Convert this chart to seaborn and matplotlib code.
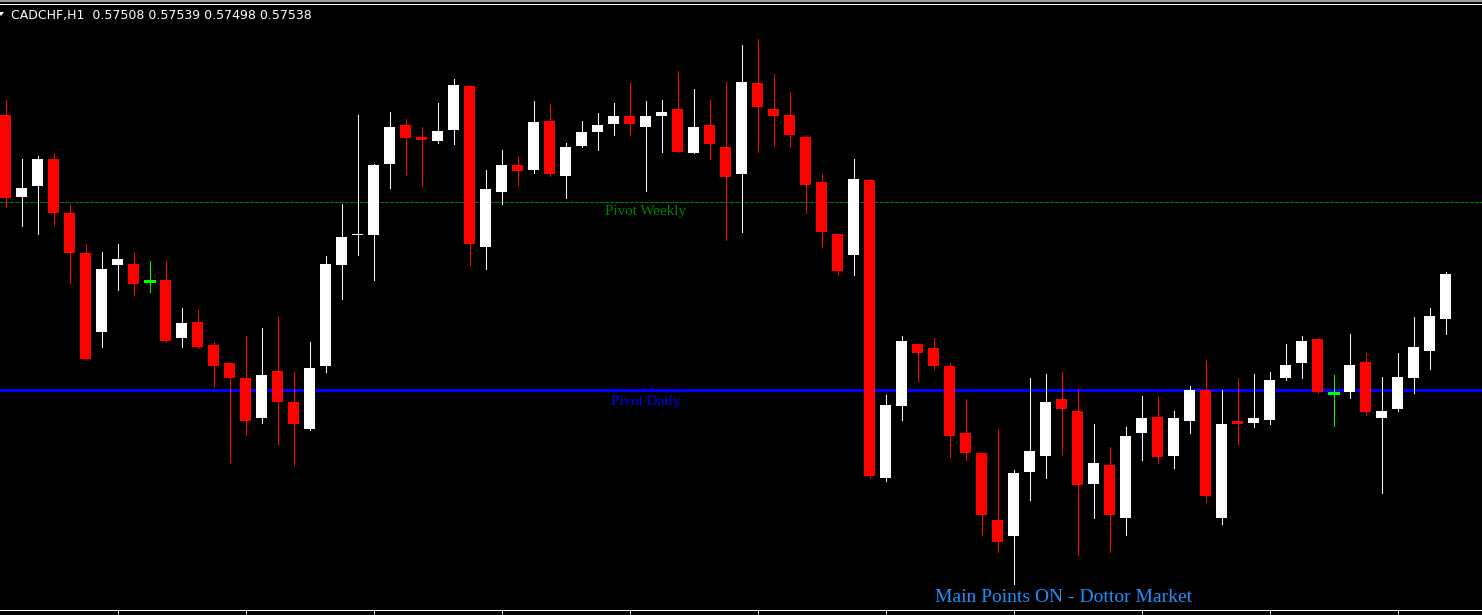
import numpy as np
import pandas as pd
import seaborn as sns
import matplotlib
matplotlib.use("Agg")
import matplotlib.pyplot as plt
from matplotlib.lines import Line2D
from matplotlib.patches import Polygon

# ---- CADCHF H1 candles (oldest -> newest) ----
symbol = "CADCHF,H1"

open_ = [0.57645, 0.57590, 0.57597, 0.57615, 0.57579, 0.57552, 0.57499, 0.57544, 0.57545, 0.57533,
         0.57534, 0.57495, 0.57506, 0.57490, 0.57478, 0.57468, 0.57441, 0.57473, 0.57452, 0.57434,
         0.57476, 0.57544, 0.57564, 0.57564, 0.57612, 0.57638, 0.57630, 0.57627, 0.57635, 0.57664,
         0.57556, 0.57593, 0.57611, 0.57608, 0.57641, 0.57604, 0.57624, 0.57633, 0.57639, 0.57644,
         0.57637, 0.57644, 0.57649, 0.57619, 0.57638, 0.57623, 0.57605, 0.57666, 0.57649, 0.57645,
         0.57630, 0.57600, 0.57565, 0.57551, 0.57601, 0.57401, 0.57449, 0.57491, 0.57488, 0.57476,
         0.57431, 0.57418, 0.57373, 0.57362, 0.57405, 0.57416, 0.57454, 0.57446, 0.57397, 0.57410,
         0.57374, 0.57431, 0.57442, 0.57416, 0.57439, 0.57460, 0.57374, 0.57439, 0.57438, 0.57440,
         0.57468, 0.57478, 0.57494, 0.57458, 0.57459, 0.57479, 0.57441, 0.57447, 0.57468, 0.57486,
         0.57508]
high = [0.57655, 0.57615, 0.57617, 0.57619, 0.57585, 0.57558, 0.57553, 0.57558, 0.57553, 0.57547,
        0.57547, 0.57515, 0.57514, 0.57492, 0.57478, 0.57496, 0.57502, 0.57510, 0.57472, 0.57492,
        0.57550, 0.57585, 0.57645, 0.57612, 0.57647, 0.57642, 0.57637, 0.57653, 0.57669, 0.57665,
        0.57608, 0.57621, 0.57617, 0.57654, 0.57652, 0.57626, 0.57641, 0.57646, 0.57653, 0.57666,
        0.57654, 0.57655, 0.57674, 0.57662, 0.57655, 0.57667, 0.57692, 0.57696, 0.57672, 0.57660,
        0.57631, 0.57605, 0.57565, 0.57615, 0.57602, 0.57457, 0.57496, 0.57491, 0.57495, 0.57478,
        0.57454, 0.57418, 0.57434, 0.57406, 0.57468, 0.57471, 0.57472, 0.57461, 0.57437, 0.57422,
        0.57435, 0.57456, 0.57456, 0.57446, 0.57463, 0.57480, 0.57460, 0.57468, 0.57471, 0.57472,
        0.57491, 0.57496, 0.57495, 0.57470, 0.57498, 0.57485, 0.57469, 0.57485, 0.57509, 0.57515,
        0.57539]
low = [0.57583, 0.57570, 0.57565, 0.57571, 0.57532, 0.57480, 0.57489, 0.57527, 0.57524, 0.57526,
       0.57492, 0.57489, 0.57488, 0.57462, 0.57412, 0.57430, 0.57438, 0.57424, 0.57410, 0.57433,
       0.57472, 0.57521, 0.57551, 0.57534, 0.57596, 0.57605, 0.57597, 0.57626, 0.57625, 0.57544,
       0.57541, 0.57585, 0.57598, 0.57606, 0.57604, 0.57589, 0.57623, 0.57621, 0.57631, 0.57631,
       0.57594, 0.57620, 0.57620, 0.57619, 0.57615, 0.57561, 0.57566, 0.57620, 0.57624, 0.57623,
       0.57579, 0.57556, 0.57537, 0.57537, 0.57401, 0.57399, 0.57440, 0.57466, 0.57474, 0.57415,
       0.57413, 0.57363, 0.57351, 0.57330, 0.57386, 0.57401, 0.57417, 0.57349, 0.57374, 0.57351,
       0.57363, 0.57413, 0.57411, 0.57408, 0.57431, 0.57385, 0.57370, 0.57424, 0.57435, 0.57437,
       0.57467, 0.57468, 0.57458, 0.57436, 0.57455, 0.57443, 0.57391, 0.57446, 0.57458, 0.57474,
       0.57498]
close = [0.57589, 0.57596, 0.57615, 0.57579, 0.57552, 0.57481, 0.57541, 0.57548, 0.57531, 0.57533,
         0.57493, 0.57505, 0.57489, 0.57476, 0.57468, 0.57439, 0.57470, 0.57452, 0.57437, 0.57475,
         0.57545, 0.57563, 0.57565, 0.57611, 0.57637, 0.57629, 0.57628, 0.57634, 0.57665, 0.57558,
         0.57595, 0.57611, 0.57607, 0.57640, 0.57605, 0.57623, 0.57633, 0.57638, 0.57644, 0.57639,
         0.57644, 0.57647, 0.57620, 0.57637, 0.57625, 0.57603, 0.57667, 0.57650, 0.57644, 0.57631,
         0.57598, 0.57566, 0.57540, 0.57602, 0.57402, 0.57450, 0.57493, 0.57485, 0.57476, 0.57429,
         0.57418, 0.57376, 0.57358, 0.57404, 0.57419, 0.57452, 0.57447, 0.57396, 0.57411, 0.57376,
         0.57429, 0.57441, 0.57415, 0.57441, 0.57460, 0.57389, 0.57437, 0.57437, 0.57441, 0.57467,
         0.57477, 0.57493, 0.57459, 0.57458, 0.57477, 0.57445, 0.57446, 0.57469, 0.57489, 0.57510,
         0.57538]

pivot_weekly = 0.57586
pivot_daily = 0.57460
pivot_label_bar = 40
price_range = (0.573123, 0.577193)
footer = "Main Points ON - Dottor Market"

# ---- frame / pixel geometry ----
W, H = 1482, 615
BAR_STEP = 16.0          # px between bars
BAR_X0 = 5.5             # px centre of first bar
BODY_W = 11.0 / BAR_STEP
PX = 0.72                # one pixel in points at 100 dpi

sns.set_theme(style="dark", rc={
    "axes.facecolor": "black",
    "figure.facecolor": "black",
    "axes.grid": False,
    "lines.scale_dashes": False,
})

df = pd.DataFrame({"open": open_, "high": high, "low": low, "close": close})
df["bar"] = np.arange(len(df))
df["color"] = np.where(df["close"] > df["open"], "#ffffff",
                       np.where(df["close"] < df["open"], "#ff0000", "#00ff00"))

fig = plt.figure(figsize=(W / 100, H / 100), dpi=100, facecolor="black")
ax = fig.add_axes([0, 5 / H, 1, 606 / H])
ax.set_facecolor("black")

# wicks
ax.vlines(df["bar"], df["low"], df["high"], colors=df["color"],
          linewidth=PX, antialiased=False, zorder=2)

# bodies
body = df[df["open"] != df["close"]]
ax.bar(body["bar"], (body["close"] - body["open"]).abs(),
       bottom=body[["open", "close"]].min(axis=1), width=BODY_W,
       color=body["color"], linewidth=0, antialiased=False, zorder=3)

# doji bars: a flat line at the open/close level
doji = df[df["open"] == df["close"]]
ax.hlines(doji["open"], doji["bar"] - BODY_W / 2, doji["bar"] + BODY_W / 2,
          colors="#00ff00", linewidth=PX * 1.2, antialiased=False, zorder=3)

# pivot levels
ax.axhline(pivot_weekly, color="#008000", linewidth=PX, linestyle=(0, (2.2, 1.4)),
           antialiased=False, zorder=1)
ax.axhline(pivot_daily, color="#0000ff", linewidth=PX * 1.3, antialiased=False, zorder=1)

ax.annotate("Pivot Weekly", xy=(pivot_label_bar, pivot_weekly), xytext=(0, -13),
            textcoords="offset pixels", ha="center", va="baseline",
            color="#008000", fontsize=10.8, family="Liberation Serif", zorder=4)
ax.annotate("Pivot Daily", xy=(pivot_label_bar, pivot_daily), xytext=(0, -14.5),
            textcoords="offset pixels", ha="center", va="baseline",
            color="#0000ff", fontsize=10.8, family="Liberation Serif", zorder=4)

# axis limits in bar units / price
ax.set_xlim(-BAR_X0 / BAR_STEP, (W - BAR_X0) / BAR_STEP)
ax.set_ylim(*price_range)

for side in ("left", "right"):
    ax.spines[side].set_visible(False)
for side in ("top", "bottom"):
    ax.spines[side].set_visible(True)
    ax.spines[side].set_color("white")
    ax.spines[side].set_linewidth(PX)

ax.set_yticks([])
ax.set_xticks(np.arange(7, len(df), 8))
ax.tick_params(axis="x", bottom=True, direction="out", length=2.9, width=PX,
               color="white", labelbottom=False)

# window edge above the chart
fig.add_artist(Line2D([0, 1], [1 - 0.5 / H, 1 - 0.5 / H], transform=fig.transFigure,
                      color="#a0a0a0", linewidth=PX * 1.5, antialiased=False))

# header: small dropdown marker and OHLC of the last bar
fig.add_artist(Polygon([(-2 / W, 1 - 12 / H), (4 / W, 1 - 12 / H), (1 / W, 1 - 16 / H)],
                       closed=True, transform=fig.transFigure, facecolor="white",
                       edgecolor="none"))
last = df.iloc[-1]
header = "{}  {:.5f} {:.5f} {:.5f} {:.5f}".format(symbol, last["open"], last["high"],
                                                 last["low"], last["close"])
fig.text(11 / W, 1 - 19.5 / H, header, color="white", fontsize=9,
         family="DejaVu Sans", ha="left", va="baseline")

fig.text(935 / W, 13.3 / H, footer, color="#1e90ff", fontsize=14,
         family="Liberation Serif", ha="left", va="baseline")

fig.savefig("out.png", dpi=100, facecolor="black")
